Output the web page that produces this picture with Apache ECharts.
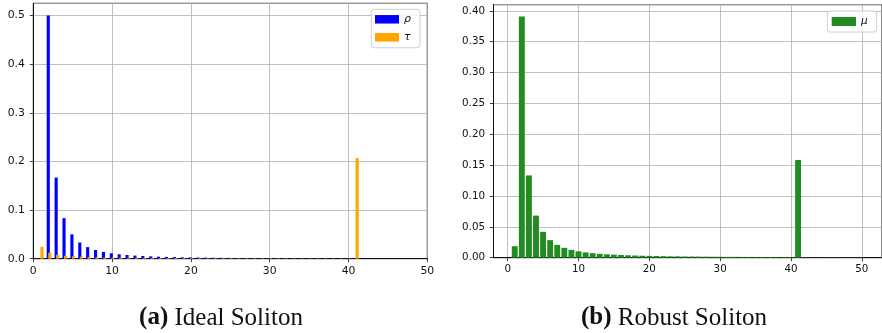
<!DOCTYPE html>
<html>
<head>
<meta charset="utf-8">
<script src="https://cdn.jsdelivr.net/npm/echarts@6/dist/echarts.min.js"></script>
<style>
  html, body { margin: 0; padding: 0; background: #fff; }
  #chart { width: 882px; height: 333px; }
</style>
</head>
<body>
<div id="chart"></div>
<script>
// Degree distributions for K = 50 source symbols
const degrees = [1,2,3,4,5,6,7,8,9,10,11,12,13,14,15,16,17,18,19,20,21,22,23,24,25,
                 26,27,28,29,30,31,32,33,34,35,36,37,38,39,40,41,42,43,44,45,46,47,48,49,50];

// Ideal soliton rho(d)
const rho = [0, 0.5, 0.1667, 0.0833, 0.05, 0.0333, 0.0238, 0.0179, 0.0139, 0.0111,
             0.0091, 0.0076, 0.0064, 0.0055, 0.0048, 0.0042, 0.0037, 0.0033, 0.0029, 0.0026,
             0.0024, 0.0022, 0.0020, 0.0018, 0.0017, 0.0015, 0.0014, 0.0013, 0.0012, 0.0011,
             0.0011, 0.0010, 0.00095, 0.00089, 0.00084, 0.00079, 0.00075, 0.00071, 0.00067, 0.00064,
             0.00061, 0.00058, 0.00055, 0.00053, 0.00051, 0.00048, 0.00046, 0.00044, 0.00043, 0.00041];

// Extra robust term tau(d), spike at K/R = 41
const tau = [0.0244, 0.0122, 0.0081, 0.0061, 0.0049, 0.0041, 0.0035, 0.0031, 0.0027, 0.0024,
             0.0022, 0.0020, 0.0019, 0.0017, 0.0016, 0.0015, 0.0014, 0.0014, 0.0013, 0.0012,
             0.0012, 0.0011, 0.0011, 0.0010, 0.0010, 0.0009, 0.0009, 0.0009, 0.0008, 0.0008,
             0.0008, 0.0008, 0.0007, 0.0007, 0.0007, 0.0007, 0.0007, 0.0006, 0.0006, 0.0006,
             0.207, 0, 0, 0, 0, 0, 0, 0, 0, 0];

// Robust soliton mu(d) = (rho + tau) / beta
const mu = [0.0186, 0.3907, 0.1333, 0.0682, 0.0419, 0.0285, 0.0208, 0.0160, 0.0127, 0.0103,
            0.0086, 0.0073, 0.0063, 0.0055, 0.0049, 0.0044, 0.0039, 0.0035, 0.0032, 0.0029,
            0.0027, 0.0025, 0.0023, 0.0022, 0.0020, 0.0019, 0.0018, 0.0017, 0.0016, 0.0015,
            0.0014, 0.0014, 0.0013, 0.0012, 0.0012, 0.0011, 0.0011, 0.0010, 0.0010, 0.0010,
            0.1584, 0.00044, 0.00042, 0.00040, 0.00039, 0.00037, 0.00035, 0.00034, 0.00033, 0.00031];

const xTicksRight = [0, 10, 20, 30, 40, 50];

const pairs = (ys) => degrees.map((d, i) => [d, ys[i]]);

const TICK_FONT = 'DejaVu Sans';
const CAPTION_FONT = 'Liberation Serif';
const GRID_LINE = { show: true, lineStyle: { color: '#b0b0b0', width: 0.8 } };
const AXIS_LINE = { show: true, onZero: false, lineStyle: { color: '#111', width: 1 } };
const AXIS_TICK = { show: true, inside: false, length: 3.5, lineStyle: { color: '#111', width: 0.8 } };

const chart = echarts.init(document.getElementById('chart'), null, { renderer: 'canvas' });

const caption = (x, tag, label) => ({
  type: 'text', x: x, y: 318,
  style: {
    text: '{b|' + tag + '} ' + label, align: 'center', verticalAlign: 'middle',
    font: '25px "' + CAPTION_FONT + '"', fill: '#111',
    rich: { b: { fontWeight: 'bold', fontSize: 25, fontFamily: CAPTION_FONT, fill: '#111' } }
  }
});

chart.setOption({
  animation: false,
  backgroundColor: '#fff',
  grid: [
    { left: 33.3, top: 3.3, width: 394, height: 255.4, show: true,
      borderColor: '#111', borderWidth: 1, backgroundColor: 'transparent' },
    { left: 493.5, top: 4.7, width: 389.4, height: 253, show: true,
      borderColor: '#111', borderWidth: 1, backgroundColor: 'transparent' }
  ],
  xAxis: [
    { type: 'value', gridIndex: 0, min: 0, max: 50, interval: 10,
      axisLine: AXIS_LINE, axisTick: AXIS_TICK, splitLine: GRID_LINE,
      axisLabel: { fontFamily: TICK_FONT, fontSize: 10.8, color: '#111', margin: 7 } },
    { type: 'value', gridIndex: 1, min: -2, max: 52.85,
      axisLine: AXIS_LINE,
      axisTick: Object.assign({}, AXIS_TICK, { customValues: xTicksRight }),
      splitLine: GRID_LINE,
      axisLabel: { fontFamily: TICK_FONT, fontSize: 10.3, color: '#111', margin: 7,
                   customValues: xTicksRight } }
  ],
  yAxis: [
    { type: 'value', gridIndex: 0, min: 0, max: 0.525, interval: 0.1,
      axisLine: AXIS_LINE, axisTick: AXIS_TICK, splitLine: GRID_LINE,
      axisLabel: { fontFamily: TICK_FONT, fontSize: 10.8, color: '#111', margin: 8.5,
                   showMaxLabel: false, formatter: (v) => v.toFixed(1) } },
    { type: 'value', gridIndex: 1, min: 0, max: 0.41, interval: 0.05,
      axisLine: AXIS_LINE, axisTick: AXIS_TICK, splitLine: GRID_LINE,
      axisLabel: { fontFamily: TICK_FONT, fontSize: 10.3, color: '#111', margin: 8.5,
                   showMaxLabel: false, formatter: (v) => v.toFixed(2) } }
  ],
  legend: [
    { data: ['ρ', 'τ'], orient: 'vertical', left: 371.3, top: 9.3,
      itemWidth: 24, itemHeight: 8.5, itemGap: 6, icon: 'rect',
      padding: [4, 9, 4.5, 3.7], borderColor: '#d0d0d0', borderWidth: 1, borderRadius: 3,
      backgroundColor: 'rgba(255,255,255,0.8)',
      textStyle: { fontFamily: TICK_FONT, fontStyle: 'italic', fontSize: 11, color: '#111', lineHeight: 12 } },
    { data: ['μ'], orient: 'vertical', left: 827.3, top: 11,
      itemWidth: 24.3, itemHeight: 9, icon: 'rect',
      padding: [4.5, 9, 4.5, 4.4], borderColor: '#d0d0d0', borderWidth: 1, borderRadius: 3,
      backgroundColor: 'rgba(255,255,255,0.8)',
      textStyle: { fontFamily: TICK_FONT, fontStyle: 'italic', fontSize: 10.5, color: '#111', lineHeight: 12 } }
  ],
  series: [
    { name: 'ρ', type: 'bar', xAxisIndex: 0, yAxisIndex: 0, data: pairs(rho),
      barWidth: 3.15, barGap: '-50%', itemStyle: { color: '#0000ff' } },
    { name: 'τ', type: 'bar', xAxisIndex: 0, yAxisIndex: 0, data: pairs(tau),
      barWidth: 3.15, barGap: '-50%', itemStyle: { color: '#ffa500' } },
    { name: 'μ', type: 'bar', xAxisIndex: 1, yAxisIndex: 1, data: pairs(mu),
      barWidth: 5.9, itemStyle: { color: '#228b22' } }
  ],
  graphic: [
    caption(221, '(a)', 'Ideal Soliton'),
    caption(674, '(b)', 'Robust Soliton')
  ]
});
</script>
</body>
</html>
